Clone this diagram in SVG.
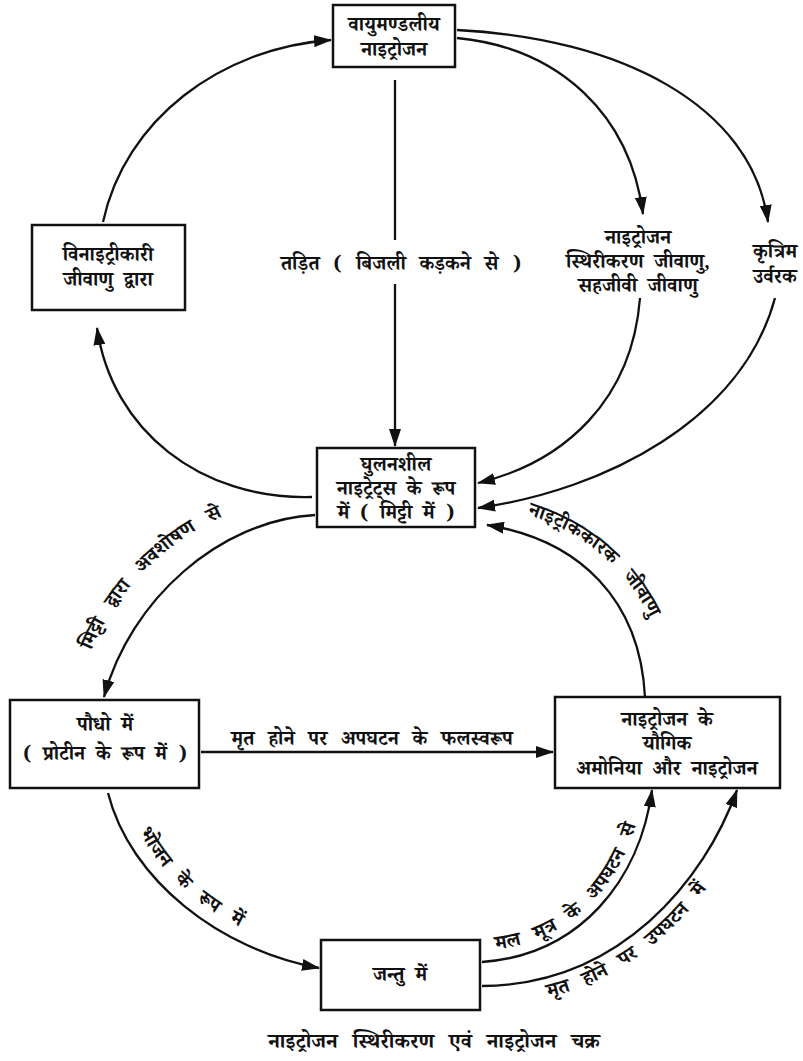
<svg xmlns="http://www.w3.org/2000/svg" width="803" height="1061" viewBox="0 0 803 1061">
<style>
.box{fill:#fff;stroke:#111;stroke-width:2.5}
.t{font-family:"Noto Serif Devanagari","Noto Sans Devanagari","Lohit Devanagari","Noto Sans",sans-serif;font-size:20px;font-weight:bold;fill:#111;text-anchor:middle;word-spacing:5px}
.l{font-family:"Noto Serif Devanagari","Noto Sans Devanagari","Lohit Devanagari","Noto Sans",sans-serif;font-size:20px;font-weight:bold;fill:#111;word-spacing:10px}
.c{fill:none;stroke:#111;stroke-width:2.3}
</style>
<defs>
<marker id="ah" viewBox="0 0 18 12" refX="17" refY="6" markerWidth="18" markerHeight="12" markerUnits="userSpaceOnUse" orient="auto">
<path d="M0,0 L18,6 L0,12 Z" fill="#111"/>
</marker>
<path id="p_soil" d="M88,660 C116,582 190,512 292,496"/>
<path id="p_food" d="M126,800 C150,875 215,930 310,952"/>
<path id="p_mal" d="M492,950 C575,942 628,880 642,800"/>
<path id="p_mrit" d="M487,1005 C632,1004 722,893 754,800"/>
<path id="p_nitri" d="M500,508 C592,526 658,590 671,690"/>
</defs>
<g id="connectors">
<path class="c" d="M395,80 V240"/>
<path class="c" d="M395,284 V446" marker-end="url(#ah)"/>
<path class="c" d="M457,38 C560,48 630,115 643,214" marker-end="url(#ah)"/>
<path class="c" d="M457,30 C620,38 752,105 768,222" marker-end="url(#ah)"/>
<path class="c" d="M640,298 C632,400 565,462 478,483" marker-end="url(#ah)"/>
<path class="c" d="M775,298 C742,420 605,490 478,508" marker-end="url(#ah)"/>
<path class="c" d="M645,697 C640,600 580,540 487,525" marker-end="url(#ah)"/>
<path class="c" d="M103,222 C125,120 220,48 331,40" marker-end="url(#ah)"/>
<path class="c" d="M312,497 C200,500 112,430 97,328" marker-end="url(#ah)"/>
<path class="c" d="M315,515 C220,520 130,600 104,697" marker-end="url(#ah)"/>
<path class="c" d="M201,752 H553" marker-end="url(#ah)"/>
<path class="c" d="M108,793 C130,880 220,950 319,968" marker-end="url(#ah)"/>
<path class="c" d="M482,962 C580,955 640,880 652,790" marker-end="url(#ah)"/>
<path class="c" d="M482,986 C620,985 705,880 737,790" marker-end="url(#ah)"/>
<text class="l" x="401" y="270" text-anchor="middle" style="word-spacing:8px">तड़ित ( बिजली कड़कने से )</text>
<text class="l" x="372" y="745" text-anchor="middle" style="word-spacing:8px">मृत होने पर अपघटन के फलस्वरूप</text>
<text class="l"><textPath href="#p_soil" startOffset="10">मिट्टी द्वारा अवशोषण से</textPath></text>
<text class="l"><textPath href="#p_food" startOffset="34">भोजन के रूप में</textPath></text>
<text class="l"><textPath href="#p_mal" startOffset="4">मल मूत्र के अपघटन से</textPath></text>
<text class="l"><textPath href="#p_mrit" startOffset="62">मृत होने पर उपघटन में</textPath></text>
<text class="l"><textPath href="#p_nitri" startOffset="28">नाइट्रीककारक जीवाणु</textPath></text>
<text class="t" x="638" y="244">नाइट्रोजन</text>
<text class="t" x="638" y="268">स्थिरीकरण जीवाणु,</text>
<text class="t" x="638" y="292">सहजीवी जीवाणु</text>
<text class="t" x="775" y="258">कृत्रिम</text>
<text class="t" x="775" y="283">उर्वरक</text>
</g>
<g id="n_atm">
<rect class="box" x="333" y="5" width="122" height="62"/>
<text class="t" x="394" y="31">वायुमण्डलीय</text>
<text class="t" x="394" y="56">नाइट्रोजन</text>
</g>
<g id="n_denit">
<rect class="box" x="32" y="225" width="153" height="85"/>
<text class="t" x="108" y="261">विनाइट्रीकारी</text>
<text class="t" x="108" y="286">जीवाणु द्वारा</text>
</g>
<g id="n_soil">
<rect class="box" x="317" y="448" width="158" height="79"/>
<text class="t" x="396" y="471">घुलनशील</text>
<text class="t" x="396" y="495">नाइट्रेट्स के रूप</text>
<text class="t" x="396" y="519">में ( मिट्टी में )</text>
</g>
<g id="n_plant">
<rect class="box" x="10" y="700" width="189" height="88"/>
<text class="t" x="105" y="731">पौधो में</text>
<text class="t" x="105" y="760">( प्रोटीन के रूप में )</text>
</g>
<g id="n_comp">
<rect class="box" x="555" y="697" width="225" height="91"/>
<text class="t" x="667" y="726">नाइट्रोजन के</text>
<text class="t" x="667" y="750">यौगिक</text>
<text class="t" x="667" y="775">अमोनिया और नाइट्रोजन</text>
</g>
<g id="n_animal">
<rect class="box" x="321" y="940" width="159" height="70"/>
<text class="t" x="400" y="981">जन्तु में</text>
</g>
<text class="t" x="434" y="1048" style="font-size:21px;word-spacing:9px">नाइट्रोजन स्थिरीकरण एवं नाइट्रोजन चक्र</text>
</svg>
